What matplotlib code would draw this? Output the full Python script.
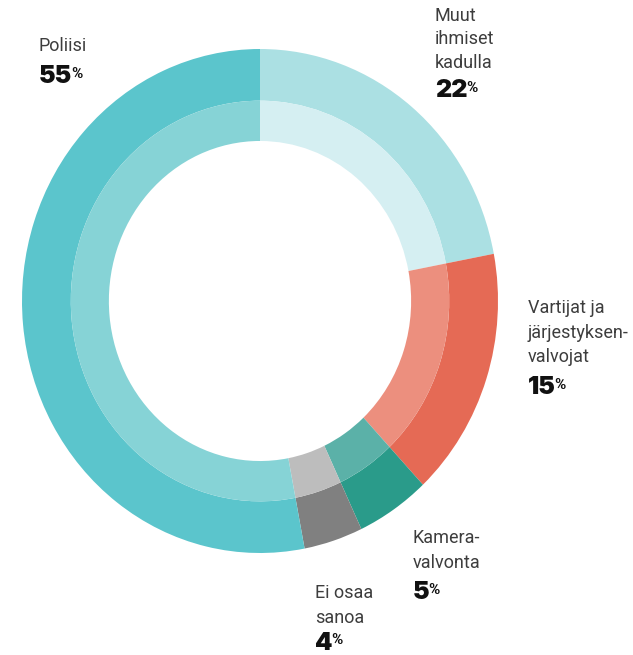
import matplotlib
matplotlib.use("Agg")
import matplotlib.pyplot as plt

# Data
categories = ["Muut ihmiset kadulla", "Vartijat ja järjestyksenvalvojat",
              "Kameravalvonta", "Ei osaa sanoa", "Poliisi"]
percent_labels = [22, 15, 5, 4, 55]          # printed values
arc_shares = [22, 16, 5, 4, 53]              # arc sizes as read from the ring
label_lines = [["Muut", "ihmiset", "kadulla"],
               ["Vartijat ja", "järjestyksen-", "valvojat"],
               ["Kamera-", "valvonta"],
               ["Ei osaa", "sanoa"],
               ["Poliisi"]]

outer_colors = ["#abe0e3", "#e56a55", "#2a9b8a", "#808080", "#5bc5cc"]
inner_colors = ["#d5eff2", "#ec8f7e", "#5bb1a8", "#bdbdbd", "#86d3d6"]

W, H = 633, 655
fig = plt.figure(figsize=(W / 100, H / 100), dpi=100)
cx, cy, rx, ry = 260, 301, 238, 252
ax = fig.add_axes([(cx - rx) / W, (H - cy - ry) / H, 2 * rx / W, 2 * ry / H])

ax.pie(arc_shares, radius=1.0, colors=outer_colors, startangle=90, counterclock=False,
       wedgeprops=dict(width=0.205, linewidth=0))
ax.pie(arc_shares, radius=0.795, colors=inner_colors, startangle=90, counterclock=False,
       wedgeprops=dict(width=0.16, linewidth=0))
ax.set_aspect("auto")
ax.set_xlim(-1, 1)
ax.set_ylim(-1, 1)
ax.axis("off")

# label positions (left x, first baseline y, line step, percent baseline y) in pixels
label_pos = [(435, 21, 23.5, 97),
             (528, 313, 24.5, 394),
             (413, 543, 25, 599),
             (315, 598, 25, 650),
             (39, 51, 0, 83)]

renderer = fig.canvas.get_renderer()
txt_color = "#3d3d3d"
for lines, pct, (lx, ly, step, py) in zip(label_lines, percent_labels, label_pos):
    for i, line in enumerate(lines):
        fig.text(lx / W, 1 - (ly + i * step) / H, line, fontsize=13, family="Roboto",
                 fontweight="normal", color=txt_color, va="baseline", ha="left")
    t = fig.text(lx / W, 1 - py / H, str(pct), fontsize=18, family="Inter",
                 fontweight=900, color="#111111", va="baseline", ha="left")
    bb = t.get_window_extent(renderer=renderer)
    fig.text((bb.x1 - 1.5) / W, (bb.y1 - 1.5) / H, "%", fontsize=11, family="Roboto",
             fontweight="bold", color="#111111", va="top", ha="left")

fig.savefig("out.png", dpi=100)
